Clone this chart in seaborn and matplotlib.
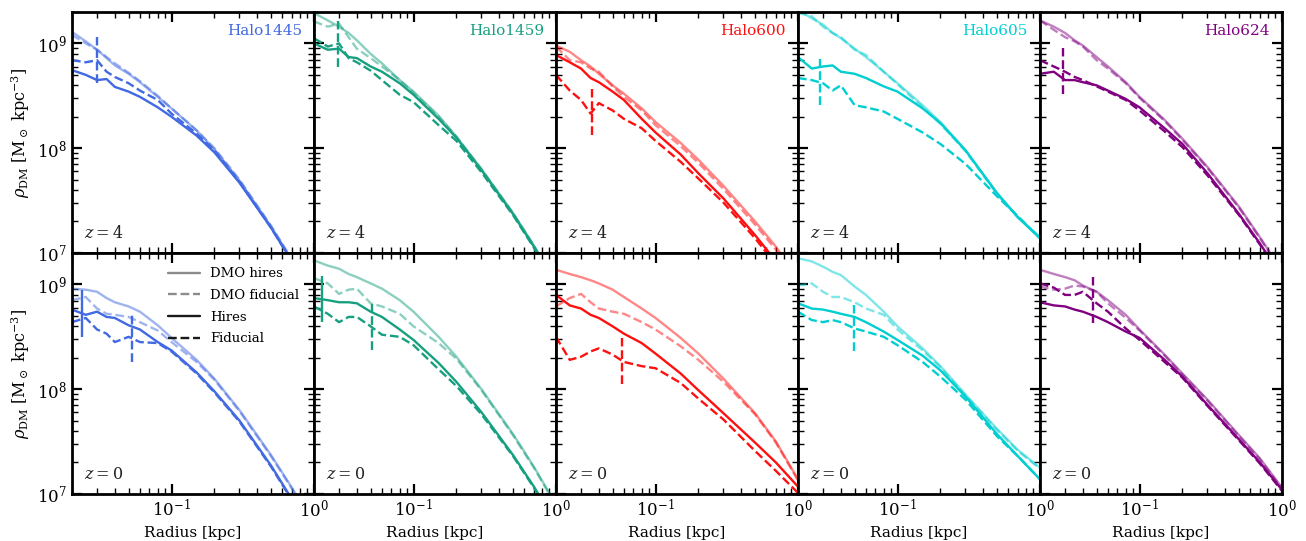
import numpy as np
import matplotlib
matplotlib.use('Agg')
import matplotlib.pyplot as plt
import seaborn as sns
from matplotlib.lines import Line2D

# radius grid [kpc] shared by every profile
radius = [0.02, 0.025, 0.03, 0.035, 0.04, 0.05, 0.06, 0.08, 0.1, 0.15, 0.2, 0.3, 0.5, 0.7, 1.0]

halos = ['Halo1445', 'Halo1459', 'Halo600', 'Halo605', 'Halo624']
colors = ['#4169e1', '#17a080', '#ff1010', '#00ced1', '#800080']
redshifts = ['4', '0']

# log10 rho_DM [Msun kpc^-3]: dmo hires, dmo fiducial, hires, fiducial
h1445_z4 = {
    'dmo_hires': [9.11, 9.02, 8.94, 8.86, 8.79, 8.71, 8.63, 8.49, 8.38, 8.17, 7.99, 7.69, 7.25, 6.93, 6.56],
    'dmo_fid':   [9.08, 9.00, 8.94, 8.87, 8.81, 8.72, 8.64, 8.50, 8.38, 8.17, 8.00, 7.70, 7.26, 6.94, 6.57],
    'hires':     [8.745, 8.70, 8.65, 8.66, 8.585, 8.54, 8.49, 8.39, 8.30, 8.12, 7.96, 7.67, 7.24, 6.92, 6.55],
    'fid':       [8.84, 8.82, 8.84, 8.73, 8.68, 8.62, 8.55, 8.46, 8.33, 8.14, 7.98, 7.68, 7.24, 6.92, 6.55],
}
h1445_z0 = {
    'dmo_hires': [8.96, 8.95, 8.93, 8.87, 8.83, 8.79, 8.74, 8.61, 8.49, 8.28, 8.10, 7.80, 7.37, 7.06, 6.70],
    'dmo_fid':   [8.85, 8.88, 8.77, 8.72, 8.71, 8.69, 8.64, 8.56, 8.45, 8.26, 8.09, 7.79, 7.36, 7.05, 6.69],
    'hires':     [8.76, 8.71, 8.74, 8.69, 8.68, 8.61, 8.57, 8.45, 8.37, 8.16, 7.98, 7.70, 7.27, 6.95, 6.59],
    'fid':       [8.64, 8.68, 8.57, 8.53, 8.45, 8.50, 8.45, 8.44, 8.36, 8.15, 7.97, 7.69, 7.26, 6.94, 6.58],
}
h1459_z4 = {
    'dmo_hires': [9.29, 9.22, 9.16, 9.10, 9.03, 8.90, 8.81, 8.65, 8.54, 8.31, 8.11, 7.80, 7.38, 7.07, 6.71],
    'dmo_fid':   [9.21, 9.16, 9.19, 9.06, 8.95, 8.86, 8.78, 8.65, 8.53, 8.30, 8.11, 7.80, 7.38, 7.07, 6.71],
    'hires':     [9.00, 8.94, 8.95, 8.87, 8.86, 8.78, 8.73, 8.62, 8.51, 8.28, 8.10, 7.79, 7.37, 7.06, 6.70],
    'fid':       [9.05, 8.97, 9.00, 8.86, 8.82, 8.74, 8.65, 8.51, 8.44, 8.22, 8.07, 7.77, 7.36, 7.05, 6.69],
}
h1459_z0 = {
    'dmo_hires': [9.23, 9.18, 9.15, 9.10, 9.07, 9.01, 8.96, 8.85, 8.74, 8.50, 8.31, 8.00, 7.57, 7.26, 6.90],
    'dmo_fid':   [9.06, 9.01, 8.91, 8.95, 8.96, 8.82, 8.79, 8.72, 8.60, 8.44, 8.29, 7.99, 7.56, 7.25, 6.89],
    'hires':     [8.87, 8.85, 8.83, 8.83, 8.82, 8.74, 8.69, 8.57, 8.47, 8.25, 8.07, 7.78, 7.37, 7.07, 6.72],
    'fid':       [8.79, 8.72, 8.64, 8.69, 8.69, 8.60, 8.52, 8.50, 8.42, 8.19, 8.03, 7.76, 7.36, 7.06, 6.71],
}
h600_z4 = {
    'dmo_hires': [8.98, 8.92, 8.84, 8.78, 8.71, 8.60, 8.52, 8.38, 8.25, 8.05, 7.89, 7.64, 7.30, 7.06, 6.76],
    'dmo_fid':   [8.97, 8.84, 8.82, 8.76, 8.73, 8.59, 8.49, 8.36, 8.22, 8.02, 7.86, 7.61, 7.27, 7.03, 6.73],
    'hires':     [8.89, 8.82, 8.76, 8.67, 8.63, 8.54, 8.46, 8.28, 8.15, 7.94, 7.76, 7.52, 7.17, 6.92, 6.60],
    'fid':       [8.70, 8.55, 8.46, 8.33, 8.43, 8.36, 8.28, 8.19, 8.07, 7.87, 7.71, 7.48, 7.14, 6.89, 6.57],
}
h600_z0 = {
    'dmo_hires': [9.14, 9.10, 9.07, 9.04, 9.01, 8.95, 8.88, 8.77, 8.68, 8.49, 8.34, 8.10, 7.77, 7.50, 7.14],
    'dmo_fid':   [8.79, 8.87, 8.91, 8.83, 8.77, 8.74, 8.72, 8.64, 8.57, 8.41, 8.28, 8.07, 7.76, 7.49, 7.13],
    'hires':     [8.90, 8.80, 8.77, 8.71, 8.68, 8.60, 8.53, 8.44, 8.34, 8.15, 7.99, 7.77, 7.49, 7.30, 7.07],
    'fid':       [8.50, 8.28, 8.31, 8.36, 8.39, 8.33, 8.26, 8.22, 8.20, 8.06, 7.91, 7.71, 7.41, 7.22, 7.01],
}
h605_z4 = {
    'dmo_hires': [9.32, 9.24, 9.18, 9.10, 9.05, 8.95, 8.87, 8.73, 8.62, 8.41, 8.25, 7.98, 7.57, 7.34, 7.15],
    'dmo_fid':   [9.29, 9.26, 9.16, 9.10, 9.06, 8.94, 8.89, 8.73, 8.61, 8.39, 8.23, 7.97, 7.56, 7.34, 7.15],
    'hires':     [8.87, 8.76, 8.78, 8.79, 8.73, 8.71, 8.67, 8.59, 8.54, 8.38, 8.24, 7.98, 7.57, 7.34, 7.14],
    'fid':       [8.67, 8.65, 8.62, 8.55, 8.60, 8.41, 8.39, 8.35, 8.28, 8.15, 8.04, 7.85, 7.54, 7.35, 7.14],
}
h605_z0 = {
    'dmo_hires': [9.25, 9.22, 9.17, 9.12, 9.09, 8.98, 8.90, 8.74, 8.60, 8.39, 8.22, 7.95, 7.62, 7.42, 7.25],
    'dmo_fid':   [8.99, 9.01, 8.93, 8.88, 8.88, 8.83, 8.77, 8.71, 8.57, 8.37, 8.21, 7.94, 7.61, 7.41, 7.24],
    'hires':     [8.82, 8.77, 8.76, 8.74, 8.72, 8.69, 8.64, 8.55, 8.47, 8.32, 8.18, 7.93, 7.57, 7.36, 7.14],
    'fid':       [8.74, 8.66, 8.64, 8.66, 8.64, 8.58, 8.55, 8.50, 8.42, 8.26, 8.12, 7.90, 7.55, 7.36, 7.14],
}
h624_z4 = {
    'dmo_hires': [9.22, 9.16, 9.10, 9.03, 8.98, 8.87, 8.78, 8.63, 8.49, 8.27, 8.09, 7.82, 7.44, 7.15, 6.83],
    'dmo_fid':   [9.22, 9.13, 9.06, 9.02, 8.97, 8.84, 8.76, 8.62, 8.48, 8.26, 8.08, 7.81, 7.43, 7.14, 6.82],
    'hires':     [8.71, 8.73, 8.65, 8.65, 8.63, 8.60, 8.55, 8.47, 8.39, 8.19, 8.04, 7.76, 7.37, 7.09, 6.77],
    'fid':       [8.84, 8.78, 8.73, 8.68, 8.65, 8.59, 8.54, 8.46, 8.36, 8.16, 8.01, 7.74, 7.36, 7.08, 6.76],
}
h624_z0 = {
    'dmo_hires': [9.14, 9.10, 9.07, 9.04, 8.99, 8.93, 8.85, 8.71, 8.57, 8.33, 8.15, 7.90, 7.56, 7.34, 7.06],
    'dmo_fid':   [8.98, 8.95, 8.96, 8.99, 8.98, 8.93, 8.82, 8.68, 8.56, 8.32, 8.14, 7.89, 7.55, 7.33, 7.05],
    'hires':     [8.83, 8.80, 8.79, 8.76, 8.74, 8.69, 8.64, 8.55, 8.49, 8.28, 8.12, 7.85, 7.52, 7.30, 7.04],
    'fid':       [9.01, 8.97, 8.90, 8.90, 8.93, 8.82, 8.74, 8.58, 8.47, 8.26, 8.11, 7.84, 7.51, 7.29, 7.03],
}
profiles = [[h1445_z4, h1459_z4, h600_z4, h605_z4, h624_z4],
            [h1445_z0, h1459_z0, h600_z0, h605_z0, h624_z0]]

# convergence radii [kpc] (None = below plotted range), rows z=4, z=0
conv_hires = [[None, None, None, None, None],
              [0.0236, 0.0227, None, None, None]]
conv_fid = [[0.030, 0.0294, 0.0357, 0.0286, 0.0292],
            [0.053, 0.0508, 0.058, 0.0495, 0.047]]

sns.set_theme(style='ticks')
plt.rcParams.update({
    'font.family': ['DejaVu Serif'],
    'mathtext.fontset': 'dejavuserif',
    'font.size': 11,
    'text.color': 'black',
    'axes.labelcolor': 'black',
    'axes.edgecolor': 'black',
    'axes.linewidth': 2.0,
    'xtick.color': 'black', 'ytick.color': 'black',
    'xtick.direction': 'in', 'ytick.direction': 'in',
    'xtick.top': True, 'ytick.right': True,
    'xtick.major.size': 7, 'ytick.major.size': 7,
    'xtick.minor.size': 4, 'ytick.minor.size': 4,
    'xtick.major.width': 1.6, 'ytick.major.width': 1.6,
    'xtick.minor.width': 1.0, 'ytick.minor.width': 1.0,
    'xtick.labelsize': 12, 'ytick.labelsize': 12,
})

fig, axes = plt.subplots(2, 5, figsize=(13.06, 5.41), dpi=100, sharex=True, sharey=True)
fig.subplots_adjust(left=0.0551, right=0.9816, top=0.978, bottom=0.087, wspace=0, hspace=0)

r = np.array(radius)
styles = [('dmo_hires', '-', 0.5), ('dmo_fid', '--', 0.5), ('hires', '-', 1.0), ('fid', '--', 1.0)]

for row in range(2):
    for col in range(5):
        ax = axes[row, col]
        prof = profiles[row][col]
        c = colors[col]
        for key, ls, alpha in styles:
            sns.lineplot(x=r, y=10 ** np.array(prof[key]), ax=ax, color=c, linestyle=ls,
                         alpha=alpha, lw=1.7, sort=False, estimator=None)
        for rc, key, ls in [(conv_hires[row][col], 'hires', '-'), (conv_fid[row][col], 'fid', '--')]:
            if rc is None:
                continue
            mid = np.interp(np.log10(rc), np.log10(r), prof[key])
            ax.vlines(rc, 10 ** (mid - 0.22), 10 ** (mid + 0.22), color=c, linestyle=ls, lw=1.7)
        ax.set_xscale('log')
        ax.set_yscale('log')
        ax.set_xlim(0.02, 1)
        ax.set_ylim(1e7, 2e9)
        ax.tick_params(which='both', direction='in', top=True, right=True)
        ax.text(0.05, 0.08, f'$z = {redshifts[row]}$', transform=ax.transAxes, fontsize=11.5,
                ha='left', va='center', color='#222222')
        if row == 0:
            ax.text(0.95, 0.92, halos[col], transform=ax.transAxes, fontsize=11,
                    ha='right', va='center', color=c)
        if row == 1:
            ax.set_xlabel('Radius [kpc]', fontsize=11)
        else:
            ax.set_xlabel('')
        if col == 0:
            ax.set_ylabel(r'$\rho_{\rm DM}$ [M$_\odot$ kpc$^{-3}$]', fontsize=11.5)
        else:
            ax.set_ylabel('')

handles = [Line2D([], [], color='k', alpha=0.5, lw=1.7, ls='-'),
           Line2D([], [], color='k', alpha=0.5, lw=1.7, ls='--'),
           Line2D([], [], color='k', lw=1.7, ls='-'),
           Line2D([], [], color='k', lw=1.7, ls='--')]
axes[1, 0].legend(handles, ['DMO hires', 'DMO fiducial', 'Hires', 'Fiducial'], loc='upper right',
                  frameon=False, fontsize=9.5, handlelength=2.4, labelspacing=0.65,
                  borderaxespad=0.7)

fig.savefig('out.png', dpi=100)
